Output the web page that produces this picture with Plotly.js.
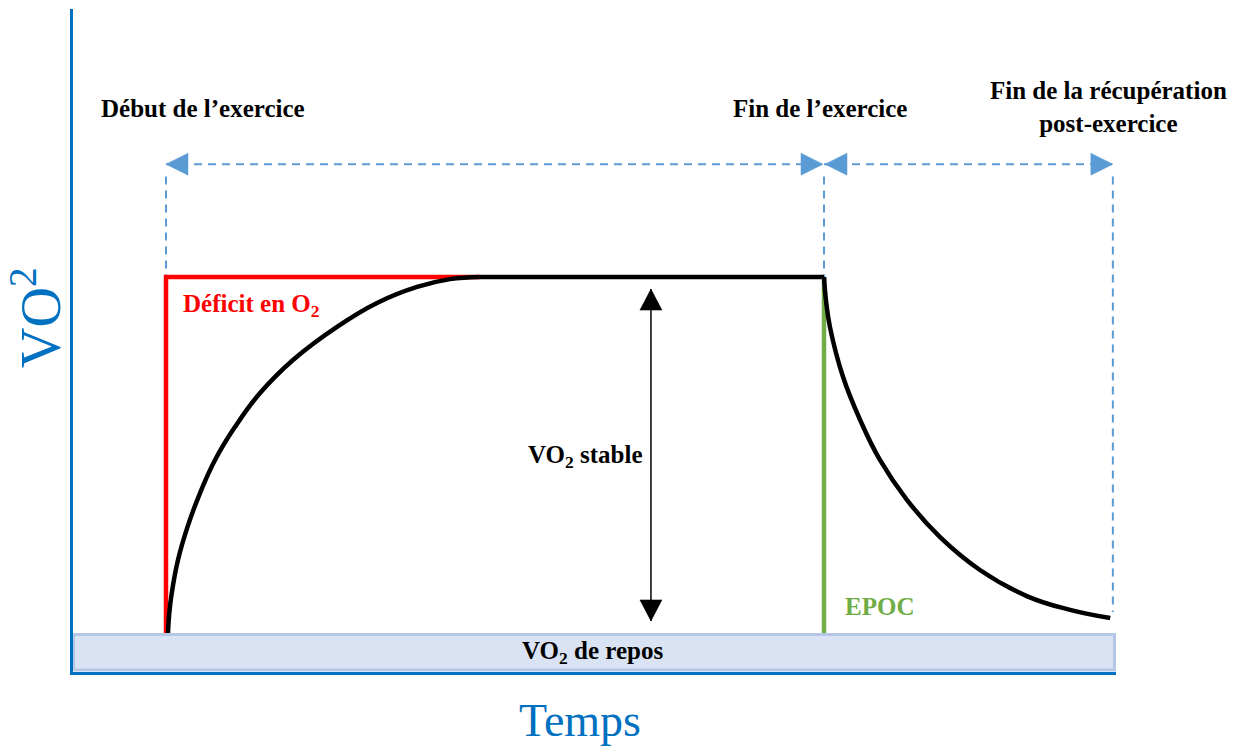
<!DOCTYPE html>
<html>
<head>
<meta charset="utf-8">
<script src="https://cdn.plot.ly/plotly-3.0.1.min.js"></script>
<style>html,body{margin:0;padding:0;background:#fff;}#chart{width:1242px;height:754px;}</style>
</head>
<body>
<div id="chart"></div>
<script>
// ---- Data (time in arbitrary units: 0 = start of exercise, 100 = end of exercise; VO2: 0 = rest, 100 = steady state)
const phaseT = [0, 100, 143.9];            // début exercice, fin exercice, fin récupération
const restV = 0;
const steadyV = 100;
const deficitEndT = 47.7;                  // where the rise curve reaches steady state
const spanV = 131.7;                       // level of the dashed span arrows
const recoveryDashBottomV = 5.9;
const riseT = [0.3, 0.5, 0.87, 1.82, 3.27, 5.17, 7.45, 10.49, 14.29, 19.30, 25.99, 32.07, 38.15, 43.16, 47.7];
const riseV = [0, 5.6, 11.2, 20.5, 29.8, 39.3, 48.6, 57.9, 67.4, 76.7, 86.0, 92.7, 97.2, 99.4, 100];
const decayT = [100, 100.3, 100.9, 102.9, 105.5, 108.5, 112.6, 117.6, 123.7, 130.9, 137.4, 143.5];
const decayV = [100, 93.5, 86.0, 71.9, 59.8, 48.6, 37.4, 27.0, 17.7, 10.3, 6.5, 4.2];
const stableArrowT = 73.7;
const stableArrowV = [3.4, 96.6];
const restBandT = [-14.06, 144.15];
const restBandV = [-10.4, -0.4];

const labels = {
  debut: "<b>Début de l’exercice</b>",
  fin: "<b>Fin de l’exercice</b>",
  finRecup: "<b>Fin de la récupération<br>post-exercice</b>",
  deficit: "<b>Déficit en O<sub>2</sub></b>",
  stable: "<b>VO<sub>2</sub> stable</b>",
  epoc: "<b>EPOC</b>",
  repos: "<b>VO<sub>2</sub> de repos</b>",
  xTitle: "Temps",
  yTitle: "VO<sup>2</sup>"
};

// ---- Layout / scale
const W = 1242, H = 754;
const margin = {l: 73, r: 126, t: 9, b: 82, pad: 0};
const xRange = [-14.134, 144.377];
const yRange = [-10.955, 175.28];
const plotW = W - margin.l - margin.r, plotH = H - margin.t - margin.b;
const pxX = plotW / (xRange[1] - xRange[0]);
const pxY = plotH / (yRange[1] - yRange[0]);

const FONT = 'Liberation Serif, "Times New Roman", serif';
const BLUE = '#0070C0', DASH = '#5B9BD5', RED = '#FF0000', GREEN = '#70AD47';

// triangle arrowhead from its tip, direction in data space, size in pixels
function tri(tipX, tipY, dir, lenPx, widPx) {
  if (dir === 'left' || dir === 'right') {
    const s = dir === 'right' ? 1 : -1;
    const L = lenPx / pxX, h = widPx / 2 / pxY;
    return {x: [tipX, tipX - s * L, tipX - s * L, tipX, null], y: [tipY, tipY + h, tipY - h, tipY, null]};
  } else {
    const s = dir === 'up' ? 1 : -1;
    const L = lenPx / pxY, w = widPx / 2 / pxX;
    return {x: [tipX, tipX - w, tipX + w, tipX, null], y: [tipY, tipY - s * L, tipY - s * L, tipY, null]};
  }
}
function merge(list) {
  const x = [], y = [];
  list.forEach(t => { x.push(...t.x); y.push(...t.y); });
  return {x, y};
}

const base = {mode: 'lines', hoverinfo: 'skip', showlegend: false};

// Rest band
const band = Object.assign({}, base, {
  x: [restBandT[0], restBandT[1], restBandT[1], restBandT[0], restBandT[0]],
  y: [restBandV[0], restBandV[0], restBandV[1], restBandV[1], restBandV[0]],
  fill: 'toself', fillcolor: '#DAE3F3', line: {color: '#B4C7E7', width: 3}
});

// Dashed span lines
const dashed = Object.assign({}, base, {
  x: [phaseT[0], phaseT[1], null, phaseT[1], phaseT[2], null,
      phaseT[0], phaseT[0], null, phaseT[1], phaseT[1], null, phaseT[2], phaseT[2]],
  y: [spanV, spanV, null, spanV, spanV, null,
      spanV - 3.5, steadyV, null, spanV - 3.5, steadyV, null, spanV - 3.5, recoveryDashBottomV],
  line: {color: DASH, width: 2, dash: '8px,6px'}, connectgaps: false
});
const blueHeads = merge([
  tri(phaseT[0], spanV, 'left', 22, 22),
  tri(phaseT[1] - 0.15, spanV, 'right', 22, 22),
  tri(phaseT[1] + 0.15, spanV, 'left', 22, 22),
  tri(phaseT[2], spanV, 'right', 22, 22)
]);
const blueArrows = Object.assign({}, base, {
  x: blueHeads.x, y: blueHeads.y, fill: 'toself', fillcolor: DASH, line: {color: DASH, width: 0.5}
});

// Oxygen deficit frame (red)
const deficit = Object.assign({}, base, {
  x: [phaseT[0], phaseT[0], deficitEndT], y: [restV, steadyV, steadyV],
  line: {color: RED, width: 4.5}
});
// Steady state (black)
const steady = Object.assign({}, base, {
  x: [deficitEndT, phaseT[1]], y: [steadyV, steadyV], line: {color: '#000', width: 4.5}
});
// Rise curve
const rise = Object.assign({}, base, {
  x: riseT, y: riseV, line: {color: '#000', width: 4.5, shape: 'spline', smoothing: 1.2}
});
// EPOC line (green)
const epoc = Object.assign({}, base, {
  x: [phaseT[1], phaseT[1]], y: [restV, steadyV], line: {color: GREEN, width: 4.5}
});
// Decay curve
const decay = Object.assign({}, base, {
  x: decayT, y: decayV, line: {color: '#000', width: 4.5, shape: 'spline', smoothing: 1.2}
});
// VO2 stable double arrow
const stableLine = Object.assign({}, base, {
  x: [stableArrowT, stableArrowT], y: stableArrowV, line: {color: '#000', width: 1.5}
});
const blackHeads = merge([
  tri(stableArrowT, stableArrowV[1], 'up', 21, 22),
  tri(stableArrowT, stableArrowV[0], 'down', 21, 22)
]);
const stableHeads = Object.assign({}, base, {
  x: blackHeads.x, y: blackHeads.y, fill: 'toself', fillcolor: '#000', line: {color: '#000', width: 0.5}
});

const txt = (text, x, y, opts) => Object.assign({
  text, x, y, xref: 'x', yref: 'y', showarrow: false, xanchor: 'center', yanchor: 'middle',
  font: {family: FONT, size: 25, color: '#000'}
}, opts || {});

const annotations = [
  txt(labels.debut, 5.62, 147.3),
  txt(labels.fin, 99.4, 147.2),
  txt(labels.finRecup, 143.2, 147.8),
  txt(labels.deficit, 2.28, 92.1, {xanchor: 'left', font: {family: FONT, size: 25, color: RED}}),
  txt(labels.stable, 63.7, 49.7),
  txt(labels.epoc, 102.9, 7.4, {xanchor: 'left', font: {family: FONT, size: 25, color: GREEN}}),
  txt(labels.repos, 64.8, -5.5),
  {text: labels.xTitle, xref: 'paper', yref: 'paper', x: (580 - margin.l) / plotW, y: -(720 - (H - margin.b)) / plotH,
   showarrow: false, xanchor: 'center', yanchor: 'middle', font: {family: FONT, size: 46, color: BLUE}},
  {text: labels.yTitle, xref: 'paper', yref: 'paper', x: (36 - margin.l) / plotW, y: ((H - margin.b) - 318) / plotH,
   showarrow: false, xanchor: 'center', yanchor: 'middle', textangle: -90, font: {family: FONT, size: 56, color: BLUE}}
];

const axisCommon = {showline: true, linecolor: BLUE, linewidth: 3, showgrid: false, zeroline: false,
  showticklabels: false, ticks: '', fixedrange: true};

const layout = {
  width: W, height: H, margin,
  paper_bgcolor: '#fff', plot_bgcolor: '#fff',
  xaxis: Object.assign({range: xRange}, axisCommon),
  yaxis: Object.assign({range: yRange}, axisCommon),
  annotations, showlegend: false
};

Plotly.newPlot('chart',
  [band, dashed, blueArrows, deficit, steady, rise, epoc, decay, stableLine, stableHeads],
  layout, {displayModeBar: false});
</script>
</body>
</html>
